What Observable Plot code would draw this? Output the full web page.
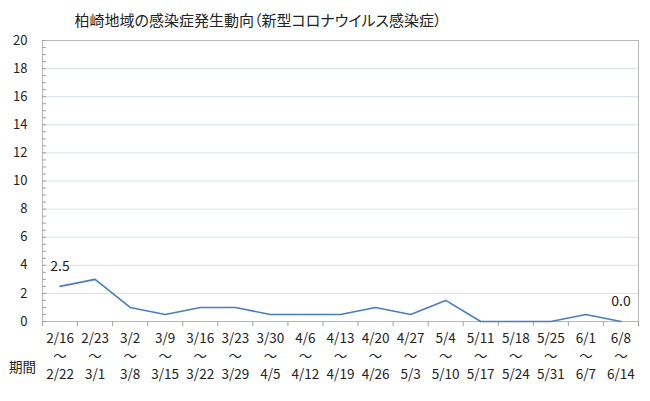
<!DOCTYPE html>
<html><head><meta charset="utf-8">
<script src="https://cdn.jsdelivr.net/npm/d3@7"></script>
<script src="https://cdn.jsdelivr.net/npm/@observablehq/plot@0.6"></script>
<style>
body{margin:0;background:#fff;font-family:"Noto Sans CJK JP","Noto Sans",sans-serif;}
#wrap{position:relative;width:650px;height:401px;}
#title{position:absolute;z-index:2;left:0;top:6px;width:516px;height:28px;line-height:28px;font-size:15px;text-align:center;color:#222;font-feature-settings:"palt";}
#chart{position:absolute;z-index:1;left:0;top:20px;}
</style></head><body>
<div id="wrap"><div id="title">柏崎地域の感染症発生動向（新型コロナウイルス感染症）</div><div id="chart"></div></div>
<script>
const startLabels = ["2/16","2/23","3/2","3/9","3/16","3/23","3/30","4/6","4/13","4/20","4/27","5/4","5/11","5/18","5/25","6/1","6/8"];
const endLabels = ["2/22","3/1","3/8","3/15","3/22","3/29","4/5","4/12","4/19","4/26","5/3","5/10","5/17","5/24","5/31","6/7","6/14"];
const cases = [2.5, 3.0, 1.0, 0.5, 1.0, 1.0, 0.5, 0.5, 0.5, 1.0, 0.5, 1.5, 0, 0, 0, 0.5, 0.0];
const yTicks = [0,2,4,6,8,10,12,14,16,18,20];
const xAxisTitle = "期間";
const rangeMark = "〜";

const data = cases.map((v, i) => ({i, v, start: startLabels[i], end: endLabels[i]}));
const n = cases.length;
const boundaries = d3.range(n + 1).map(k => k - 0.5);
const minorTicks = d3.range(0, 20.01, 0.5);
const labelled = [data[0], data[n - 1]];
const fontFam = '"Noto Sans CJK JP","Noto Sans",sans-serif';
const blank = () => "";

const plot = Plot.plot({
  width: 650,
  height: 381,
  marginTop: 20,
  marginBottom: 80,
  marginLeft: 42,
  marginRight: 12,
  style: {fontFamily: fontFam, fontSize: "13px", color: "#222", background: "transparent"},
  x: {type: "linear", domain: [-0.5, n - 0.5], axis: null},
  y: {domain: [0, 20], axis: null},
  marks: [
    Plot.gridY(yTicks.slice(1, -1), {stroke: "#d5dfec", strokeOpacity: 1}),
    Plot.frame({stroke: "#b8b8b8"}),
    Plot.axisY(minorTicks, {tickSize: -4, tickFormat: blank, label: null, stroke: "#a0a0a0", strokeOpacity: 1}),
    Plot.axisY(yTicks, {tickSize: 0, tickPadding: 15, label: null, fontSize: 13, fill: "#222"}),
    Plot.axisX(boundaries, {tickSize: 5, tickFormat: blank, label: null, stroke: "#a0a0a0", strokeOpacity: 1}),
    Plot.line(data, {x: "i", y: "v", stroke: "#4a7dbf", strokeWidth: 1.6}),
    Plot.text(labelled, {x: "i", y: "v", text: d => d.v.toFixed(1), dy: -20, fontSize: 14, fill: "#222"}),
    Plot.text(data, {x: "i", text: d => `${d.start}\n${rangeMark}\n${d.end}`, frameAnchor: "bottom", lineAnchor: "middle", lineHeight: 18 / 13.5, dy: 34, fontSize: 13.5, fill: "#222"}),
    Plot.text([xAxisTitle], {frameAnchor: "bottom-left", textAnchor: "middle", dx: -20, dy: 50, fontSize: 13.5, fill: "#222"})
  ]
});
document.getElementById("chart").appendChild(plot);
</script>
</body></html>
